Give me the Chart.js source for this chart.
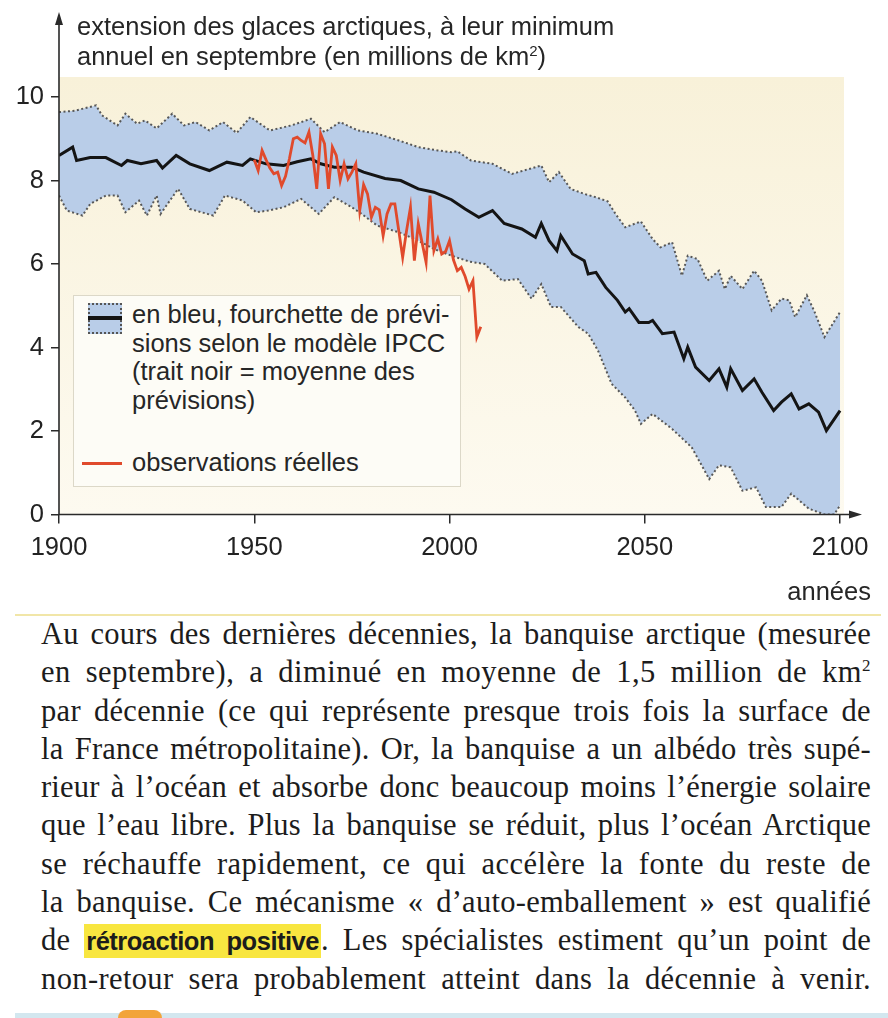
<!DOCTYPE html>
<html lang="fr">
<head>
<meta charset="utf-8">
<title>Extension des glaces arctiques</title>
<script src="https://cdn.jsdelivr.net/npm/chart.js@4.4.1/dist/chart.umd.min.js"></script>
<style>
    html, body { margin: 0; padding: 0; background: #fff; }
    body { width: 888px; height: 1018px; position: relative; overflow: hidden; }
    #chartBox { position: absolute; left: 0; top: 0; width: 888px; height: 610px; }
    .sans { font-family: "Liberation Sans", Arial, sans-serif; color: #262626; }
    #titre { position: absolute; left: 77px; top: 11px; font-size: 25.5px; line-height: 30px; white-space: nowrap; }
    #titre sup { font-size: 15px; line-height: 0; }
    #annees { position: absolute; right: 17px; top: 576px; font-size: 25.5px; line-height: 30px; }
    #legende { position: absolute; left: 73px; top: 295px; width: 386px; height: 190px;
        background: #fdfcf6; border: 1.5px solid #dcd8c8; }
    #legende .txt { position: absolute; left: 58px; font-size: 25.5px; line-height: 28.5px; white-space: nowrap; }
    #symBleu { position: absolute; left: 14px; top: 7px; width: 30px; height: 27px;
        background: #b9cde8; border: 2px dotted #555; }
    #symBleu::after { content: ""; position: absolute; left: -2px; right: -2px; top: 11px; height: 4px; background: #141414; }
    #symRouge { position: absolute; left: 8px; top: 166px; width: 40px; height: 3px; background: #e04a2c; }
    #sep { position: absolute; left: 15px; top: 614px; width: 866px; height: 2px; background: #f1e6a8; }
    #texte { position: absolute; left: 41px; top: 615px; width: 830px;
        font-family: "Liberation Serif", "Times New Roman", serif; font-size: 30.5px; color: #1c1c1c; }
    #texte .ln { height: 38.3px; line-height: 38.3px; text-align: justify; text-align-last: justify; white-space: nowrap; }
    #texte sup { font-size: 17px; line-height: 0; }
    .surligne { font-family: "Liberation Sans", Arial, sans-serif; font-weight: bold; font-size: 25.5px;
        background: #f8e640; padding: 3px 2px; letter-spacing: -0.5px !important; }
    #basBleu { position: absolute; left: 15px; top: 1013px; width: 873px; height: 5px; background: #d3e7ef; }
    #basOrange { position: absolute; left: 118px; top: 1010px; width: 44px; height: 8px; border-radius: 20px 20px 0 0; background: #f2a43a; }
</style>
</head>
<body>

<div id="chartBox"><canvas id="glacesChart"></canvas></div>

<div id="titre" class="sans">extension des glaces arctiques, à leur minimum<br>annuel en septembre (en millions de km<sup>2</sup>)</div>

<div id="legende" class="sans">
    <div id="symBleu"></div>
    <div class="txt" style="top: 4px;">en bleu, fourchette de prévi-<br>sions selon le modèle IPCC<br>(trait noir = moyenne des<br>prévisions)</div>
    <div id="symRouge"></div>
    <div class="txt" style="top: 152px;">observations réelles</div>
</div>

<div id="annees" class="sans">années</div>

<div id="sep"></div>
<div id="texte">
    <div class="ln">Au cours des dernières décennies, la banquise arctique (mesurée</div>
    <div class="ln">en septembre), a diminué en moyenne de 1,5 million de km<sup>2</sup></div>
    <div class="ln">par décennie (ce qui représente presque trois fois la surface de</div>
    <div class="ln">la France métropolitaine). Or, la banquise a un albédo très supé-</div>
    <div class="ln">rieur à l’océan et absorbe donc beaucoup moins l’énergie solaire</div>
    <div class="ln">que l’eau libre. Plus la banquise se réduit, plus l’océan Arctique</div>
    <div class="ln">se réchauffe rapidement, ce qui accélère la fonte du reste de</div>
    <div class="ln">la banquise. Ce mécanisme «&nbsp;d’auto-emballement&nbsp;» est qualifié</div>
    <div class="ln">de <span class="surligne">rétroaction positive</span>. Les spécialistes estiment qu’un point de</div>
    <div class="ln">non-retour sera probablement atteint dans la décennie à venir.</div>
</div>
<div id="basBleu"></div>
<div id="basOrange"></div>

<script>
/* ==============================
   DATA
================================= */

const xTicks = [1900, 1950, 2000, 2050, 2100];
const yTicks = [0, 2, 4, 6, 8, 10];

// upper edge of the IPCC forecast range
const upperYears = [1900, 1904, 1909.5, 1911, 1915, 1917, 1920, 1922, 1925, 1929, 1932, 1935, 1938.5, 1942, 1945.5, 1949,
    1954, 1959.5, 1964.5, 1968, 1972, 1976.5, 1981.5, 1987, 1992, 1997, 2000.5, 2002, 2005.5, 2011, 2016, 2019,
    2023.5, 2025.5, 2028, 2031, 2034.5, 2037.5, 2040.5, 2042.5, 2045, 2049, 2052, 2054, 2057, 2059.5, 2061, 2063.5,
    2066, 2069, 2070.5, 2072, 2075, 2078, 2080, 2082.5, 2085, 2087, 2088.5, 2091.5, 2093.5, 2096, 2100];
const upperValues = [9.64, 9.67, 9.8, 9.56, 9.32, 9.6, 9.36, 9.44, 9.25, 9.6, 9.32, 9.4, 9.2, 9.4, 9.14, 9.52,
    9.2, 9.32, 9.48, 9.16, 9.4, 9.2, 9.12, 8.96, 8.8, 8.72, 8.68, 8.7, 8.48, 8.4, 8.16, 8.24,
    8.36, 7.96, 8.2, 7.8, 7.68, 7.6, 7.5, 7.2, 6.88, 7.02, 6.6, 6.4, 6.52, 5.72, 6.2, 6.12,
    5.6, 5.84, 5.4, 5.72, 5.4, 5.84, 5.6, 4.89, 5.17, 5.13, 4.73, 5.25, 4.85, 4.25, 4.85];

// mean of the forecasts (black line)
const meanYears = [1900, 1903.5, 1904.5, 1908, 1912, 1916, 1917.5, 1921, 1925, 1926.5, 1930, 1933.5, 1938.5, 1943, 1947, 1949,
    1953, 1957.5, 1961, 1964.5, 1967, 1970.5, 1975, 1978, 1983.5, 1987.5, 1992, 1996, 2000.5, 2004, 2007.5, 2011,
    2014, 2018.5, 2022, 2023.5, 2025.5, 2027.5, 2028.5, 2031.5, 2034.5, 2035.5, 2037.5, 2040, 2043, 2045, 2046, 2048.5,
    2051, 2052, 2054.5, 2057.5, 2060, 2061, 2063, 2066.5, 2069, 2071, 2072, 2075, 2078, 2080, 2083, 2085,
    2087.5, 2089.5, 2092, 2094.5, 2096.5, 2100];
const meanValues = [8.6, 8.8, 8.48, 8.55, 8.55, 8.36, 8.48, 8.4, 8.48, 8.3, 8.6, 8.4, 8.24, 8.44, 8.36, 8.52,
    8.4, 8.36, 8.45, 8.52, 8.4, 8.32, 8.32, 8.2, 8.05, 8.0, 7.8, 7.72, 7.54, 7.32, 7.12, 7.28,
    6.97, 6.84, 6.64, 6.97, 6.56, 6.32, 6.68, 6.24, 6.08, 5.76, 5.8, 5.44, 5.13, 4.85, 4.93, 4.6,
    4.6, 4.65, 4.33, 4.37, 3.73, 4.01, 3.53, 3.21, 3.49, 3.05, 3.49, 2.97, 3.25, 2.93, 2.49, 2.69,
    2.89, 2.53, 2.65, 2.45, 2.01, 2.49];

// lower edge of the IPCC forecast range
const lowerYears = [1900, 1902, 1906, 1908, 1912, 1915, 1917, 1920.5, 1922.5, 1925, 1926, 1930.5, 1933.5, 1939.5, 1942.5, 1947,
    1950.5, 1953.5, 1957.5, 1962, 1966.5, 1970.5, 1975, 1977.5, 1981.5, 1987, 1992, 1996, 2000.5, 2005, 2009, 2013.5,
    2017.5, 2021, 2023.5, 2026, 2028.5, 2033, 2035.5, 2038, 2041.5, 2045, 2047.5, 2049, 2052, 2057, 2062, 2066.5,
    2069, 2072, 2075, 2078.5, 2081, 2085, 2087.5, 2092, 2096, 2098.5, 2100];
const lowerValues = [7.64, 7.28, 7.16, 7.44, 7.64, 7.64, 7.24, 7.52, 7.16, 7.64, 7.2, 7.8, 7.32, 7.16, 7.64, 7.52,
    7.24, 7.28, 7.36, 7.56, 7.2, 7.6, 7.36, 7.2, 6.92, 6.76, 6.56, 6.36, 6.2, 6.06, 6.0, 5.6,
    5.64, 5.17, 5.52, 4.97, 4.97, 4.49, 4.33, 3.93, 3.13, 2.8, 2.49, 2.17, 2.41, 2.05, 1.61, 0.85,
    1.18, 1.13, 0.57, 0.65, 0.18, 0.18, 0.5, 0.14, 0.0, 0.0, 0.22];

// observed September minimum (red line), 1950 to 2008
const obsYears = [1950, 1951, 1952, 1953, 1954, 1955, 1956, 1957, 1958, 1959, 1960, 1961, 1962, 1963, 1964, 1965,
    1966, 1967, 1968, 1969, 1970, 1971, 1972, 1973, 1974, 1975, 1976, 1977, 1978, 1979, 1980, 1981,
    1982, 1983, 1984, 1985, 1986, 1987, 1988, 1989, 1990, 1991, 1992, 1993, 1994, 1995, 1996, 1997,
    1998, 1999, 2000, 2001, 2002, 2003, 2004, 2005, 2006, 2007, 2008];
const obsValues = [8.5, 8.24, 8.72, 8.5, 8.3, 8.16, 8.2, 7.88, 8.1, 8.52, 9.0, 9.04, 8.96, 8.9, 9.16, 8.6,
    7.8, 9.12, 8.88, 7.8, 8.8, 8.6, 8.0, 8.4, 8.04, 8.2, 8.4, 7.28, 7.9, 7.68, 7.12, 7.36,
    7.3, 6.68, 7.2, 7.44, 7.44, 6.8, 6.16, 6.8, 7.36, 6.08, 6.96, 6.5, 6.04, 7.64, 6.32, 6.6,
    6.24, 6.3, 6.56, 6.1, 5.84, 5.92, 5.7, 5.4, 5.6, 4.25, 4.5];


/* ==============================
   HELPERS / PLUGINS
================================= */

const RED = '#e04a2c';
const BLUE = '#b9cde8';
const DOTS = '#575757';
const AXIS = '#2a2a2a';
const FONT = '"Liberation Sans", Arial, sans-serif';

function toPoints(years, values) {
    return years.map((y, i) => ({ x: y, y: values[i] }));
}

// cream plot background
const fondPlugin = {
    id: 'fond',
    beforeDraw(chart) {
        const { ctx, chartArea: a } = chart;
        const g = ctx.createLinearGradient(0, a.top, 0, a.bottom);
        g.addColorStop(0, '#f8f1d9');
        g.addColorStop(1, '#fdfaf0');
        ctx.save();
        ctx.fillStyle = g;
        ctx.fillRect(a.left, a.top, a.right - a.left + 2, a.bottom - a.top);
        ctx.restore();
    }
};

// axes with arrow heads
const flechesPlugin = {
    id: 'fleches',
    afterDraw(chart) {
        const { ctx, chartArea: a } = chart;
        ctx.save();
        ctx.strokeStyle = AXIS;
        ctx.fillStyle = AXIS;
        ctx.lineWidth = 1.6;

        ctx.beginPath();
        ctx.moveTo(a.left, a.bottom);
        ctx.lineTo(a.left, 20);
        ctx.moveTo(a.left, a.bottom);
        ctx.lineTo(a.right + 12, a.bottom);
        ctx.stroke();

        ctx.beginPath();
        ctx.moveTo(a.left, 12);
        ctx.lineTo(a.left - 4, 25);
        ctx.lineTo(a.left + 4, 25);
        ctx.closePath();
        ctx.fill();

        ctx.beginPath();
        ctx.moveTo(a.right + 20, a.bottom);
        ctx.lineTo(a.right + 7, a.bottom - 4);
        ctx.lineTo(a.right + 7, a.bottom + 4);
        ctx.closePath();
        ctx.fill();
        ctx.restore();
    }
};


/* ==============================
   TEXT FITTING
================================= */

// spread part of the missing width as letter spacing, the rest is justified
function ajusterLignes() {
    document.querySelectorAll('#texte .ln').forEach(ln => {
        ln.style.letterSpacing = '0px';
        ln.style.display = 'inline-block';
        ln.style.textAlignLast = 'left';
        const natural = ln.getBoundingClientRect().width;
        ln.style.display = '';
        ln.style.textAlignLast = '';
        const chars = ln.textContent.length;
        const spacing = Math.max(-1.2, (830 - natural) * 0.3 / chars);
        ln.style.letterSpacing = spacing.toFixed(2) + 'px';
    });
}
ajusterLignes();
if (document.fonts && document.fonts.ready) document.fonts.ready.then(ajusterLignes);


/* ==============================
   CHART
================================= */

const ctx = document.getElementById('glacesChart').getContext('2d');

new Chart(ctx, {
    type: 'line',
    data: {
        datasets: [
            {
                label: 'observations réelles',
                data: toPoints(obsYears, obsValues),
                borderColor: RED,
                borderWidth: 2.8,
                pointRadius: 0,
                fill: false
            },
            {
                label: 'moyenne des prévisions',
                data: toPoints(meanYears, meanValues),
                borderColor: '#141414',
                borderWidth: 3,
                pointRadius: 0,
                fill: false
            },
            {
                label: 'fourchette haute',
                data: toPoints(upperYears, upperValues),
                borderColor: DOTS,
                borderWidth: 2,
                borderDash: [2, 2.5],
                pointRadius: 0,
                backgroundColor: BLUE,
                fill: { target: '+1' }
            },
            {
                label: 'fourchette basse',
                data: toPoints(lowerYears, lowerValues),
                borderColor: DOTS,
                borderWidth: 2,
                borderDash: [2, 2.5],
                pointRadius: 0,
                fill: false
            }
        ]
    },
    options: {
        responsive: true,
        maintainAspectRatio: false,
        animation: false,
        layout: { padding: { top: 77, right: 46, left: 0, bottom: 0 } },
        plugins: {
            legend: { display: false },
            tooltip: { enabled: false },
            filler: { drawTime: 'beforeDatasetsDraw' }
        },
        scales: {
            x: {
                type: 'linear',
                min: 1900,
                max: 2100.5,
                afterBuildTicks: (scale) => { scale.ticks = xTicks.map(v => ({ value: v })); },
                afterFit: (scale) => { scale.height = 95.5; },
                ticks: {
                    color: '#222',
                    font: { family: FONT, size: 25.5 },
                    padding: 9,
                    maxRotation: 0,
                    callback: (v) => String(v)
                },
                grid: { drawOnChartArea: false, drawTicks: true, tickLength: 9, color: AXIS, lineWidth: 1.5 },
                border: { display: false }
            },
            y: {
                type: 'linear',
                min: 0,
                max: 10.48,
                afterBuildTicks: (scale) => { scale.ticks = yTicks.map(v => ({ value: v })); },
                afterFit: (scale) => { scale.width = 59; },
                ticks: {
                    color: '#222',
                    font: { family: FONT, size: 25.5 },
                    padding: 7
                },
                grid: { drawOnChartArea: false, drawTicks: true, tickLength: 8, color: AXIS, lineWidth: 1.5 },
                border: { display: false }
            }
        }
    },
    plugins: [fondPlugin, flechesPlugin]
});
</script>
</body>
</html>
